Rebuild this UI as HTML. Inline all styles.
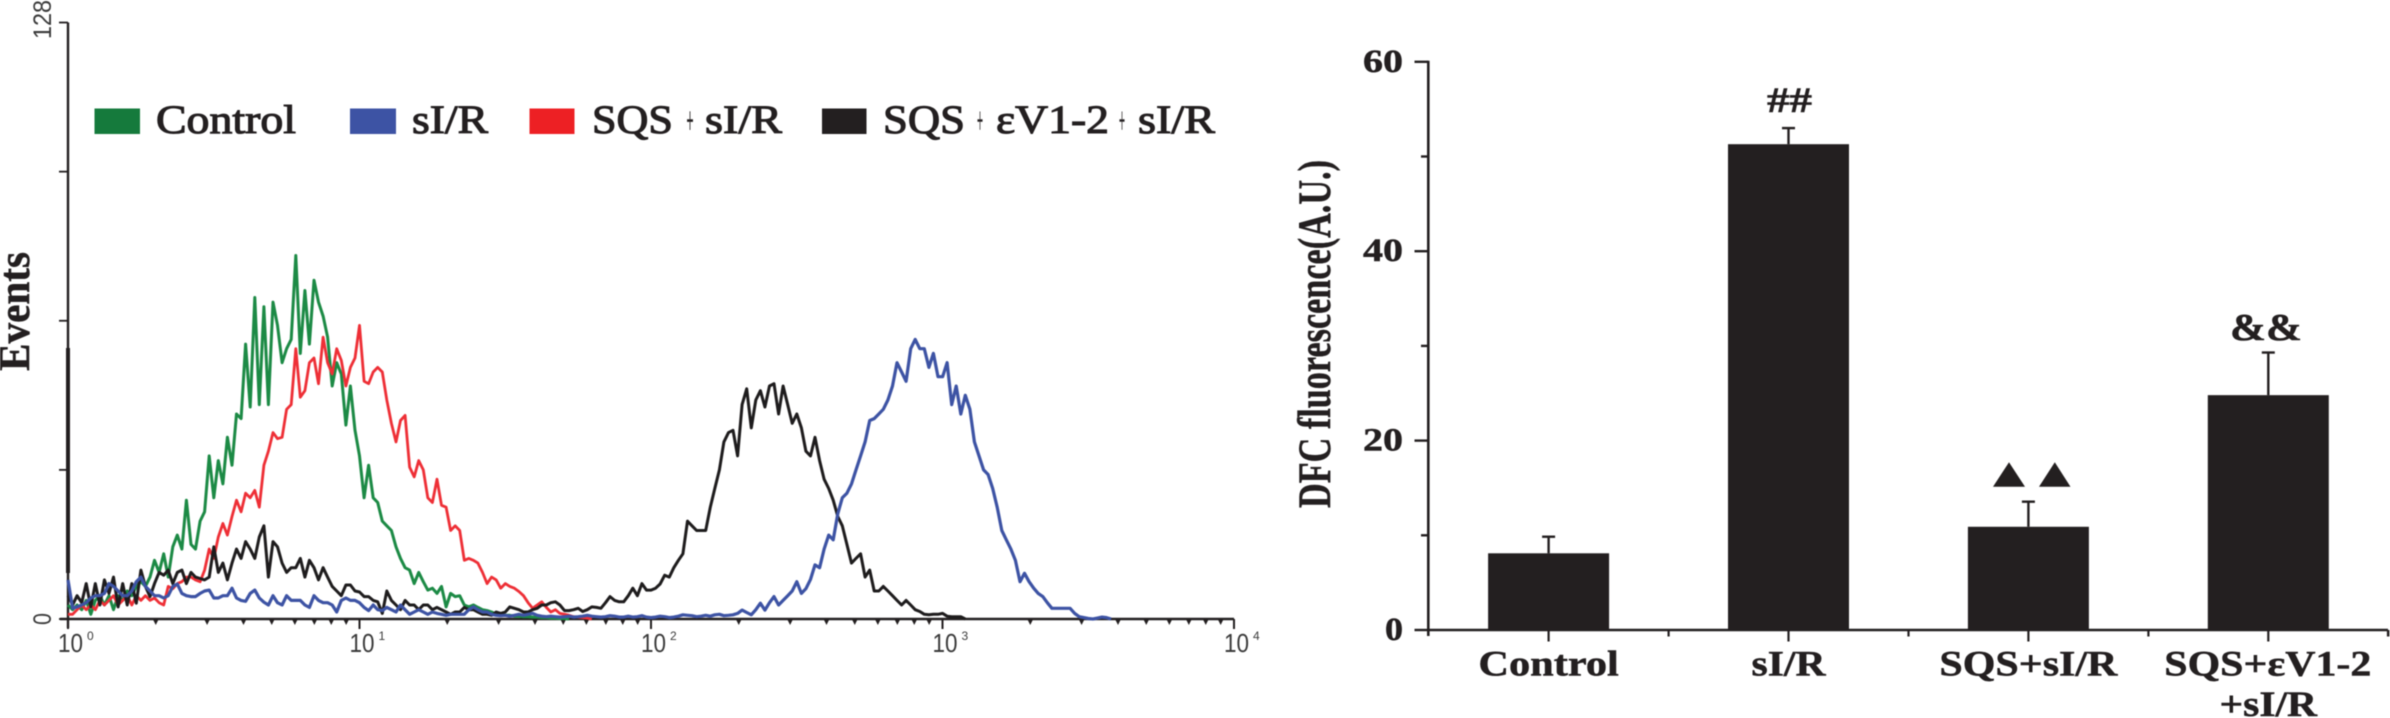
<!DOCTYPE html>
<html lang="en">
<head>
<meta charset="utf-8">
<title>Flow cytometry histogram and DFC fluorescence bar chart</title>
<style>
html,body{margin:0;padding:0;background:#fff;width:2390px;height:718px;overflow:hidden}
svg{display:block;filter:blur(0.6px)}
.serif{font-family:"Liberation Serif","Noto Serif CJK SC",serif;fill:#231f20}
.sans{font-family:"Liberation Sans","DejaVu Sans",sans-serif;fill:#3a3a3a}
.legend-text{font-size:40px;stroke:#231f20;stroke-width:1.1px}
.bold-text{font-weight:bold;stroke:#231f20;stroke-width:.5px}
</style>
</head>
<body>
<svg id="fig" xmlns="http://www.w3.org/2000/svg" width="2390" height="718" viewBox="0 0 2390 718">
  <g id="hist">
    <g id="hist-axes"></g>
    <g id="hist-lines"></g>
    <text class="serif" font-weight="bold" font-size="44" textLength="119" lengthAdjust="spacingAndGlyphs" transform="translate(29 371) rotate(-90)" stroke="#231f20" stroke-width=".5">Events</text>
    <g>
      <g>
        <rect x="94.5" y="108.5" width="45.5" height="25.5" fill="#157a3c"/>
        <text class="serif legend-text" x="156" y="133" textLength="140" lengthAdjust="spacingAndGlyphs">Control</text>
      </g>
      <g>
        <rect x="350" y="108.5" width="46" height="25.5" fill="#3d53a4"/>
        <text class="serif legend-text" x="412" y="133" textLength="76" lengthAdjust="spacingAndGlyphs">sI/R</text>
      </g>
      <g>
        <rect x="529.5" y="108.5" width="45" height="25.5" fill="#ed2024"/>
        <text class="serif legend-text" x="592" y="133" textLength="81" lengthAdjust="spacingAndGlyphs">SQS</text>
        <text class="serif" font-size="38" x="686.5" y="133" textLength="7" lengthAdjust="spacingAndGlyphs" stroke="#231f20" stroke-width=".7">+</text>
        <text class="serif legend-text" x="705" y="133" textLength="77" lengthAdjust="spacingAndGlyphs">sI/R</text>
      </g>
      <g>
        <rect x="822" y="108.5" width="44.5" height="25.5" fill="#231f20"/>
        <text class="serif legend-text" x="883" y="133" textLength="82" lengthAdjust="spacingAndGlyphs">SQS</text>
        <text class="serif" font-size="38" x="977" y="133" textLength="6" lengthAdjust="spacingAndGlyphs" stroke="#231f20" stroke-width=".6">+</text>
        <text class="serif legend-text" x="996" y="133" textLength="113" lengthAdjust="spacingAndGlyphs">εV1-2</text>
        <text class="serif" font-size="38" x="1119" y="133" textLength="6" lengthAdjust="spacingAndGlyphs" stroke="#231f20" stroke-width=".6">+</text>
        <text class="serif legend-text" x="1138" y="133" textLength="77" lengthAdjust="spacingAndGlyphs">sI/R</text>
      </g>
    </g>
  </g>
  <g id="bars">
    <g id="bar-marks"></g>
    <g id="bar-axes"></g>
    <text class="serif bold-text" font-size="47" textLength="348" lengthAdjust="spacingAndGlyphs" transform="translate(1330 508) rotate(-90)">DFC fluorescence(A.U.)</text>
    <text class="serif bold-text" font-size="36" x="1767" y="112" textLength="45" lengthAdjust="spacingAndGlyphs">##</text>
    <text class="serif bold-text" font-size="38" x="2230" y="340" textLength="72" lengthAdjust="spacingAndGlyphs">&amp;&amp;</text>
    <polygon points="1993,486.7 2009,462.3 2025,486.7" fill="#231f20"/>
    <polygon points="2039,486.7 2054.8,462.3 2070.5,486.7" fill="#231f20"/>
    <text class="serif bold-text" font-size="36" x="2219.5" y="716" textLength="97.5" lengthAdjust="spacingAndGlyphs">+sI/R</text>
  </g>
</svg>
<script>
// ---- Histogram data: event counts per log channel (64 channels per decade) ----
const greenCounts = [3,2,3,2,4,1,4,5,3,5,2,5,4,6,5,7,8,7,9,12.6,10,14,9,15.5,18,15,25.5,16,15,21,23,35,26,34,29,39,33,44,43,59,45.5,69,46,67,46,68,63,55,58,60,78,57,70.5,59,72.7,68,65,60.5,50,55,52.6,41.6,50,40.5,35,26,33,26,25,21,20,19,15.5,13,11,10.5,7.6,10,8,6.2,6.6,5.5,7,2.6,5.5,4.8,5,3,2.6,3,2.5,2,1.8,1.5,1,1,.8,.8,.6,.6,.5,.5,.4,.4,.3,.3,.2,.2,.1,.1,0];
const redCounts = [1,1,2,3,2,3,2,4,3,4,5,3,4,5,3,5,4,5,4,4.5,3.5,3,7,6.5,7.6,8,9,9,8.4,8,10.5,15,13,17.6,20.5,18,22,25.5,23,27,26,27.6,24,33,36,40,38.7,39,45,46,58,47.6,49,55,56,50.5,60.5,55,52.6,58,55.5,50,54,56,63,51,50.5,53,54,53,47,42,38,42.6,43.7,32.6,30.5,34,32,26,25,30,24.4,24,19,20,19,12.6,13,12.6,12,10,7.6,9,8.4,6.6,7.6,7,6.6,5.9,5,3.5,2.3,3,3.7,2.5,1.5,2,1.2,1,.8,.5,.4,.3,.2,0];
const blackCounts = [5,3,5,3.5,7.6,2.6,7.6,3,8.4,5.5,9,2.6,7.6,3,7.6,3.4,10.5,7,4.8,7.6,10,9.4,10.5,7.6,10,10.5,7.6,10,9,8.7,8.4,9,15.5,10,12,8.4,12,15,13,16.6,15,13,17.6,20,9,16.6,15.5,12,10,11,11,13,9,12.6,11,8.4,11,9,7,6,5,7.3,7.3,6,5.8,4.8,4.8,4,3.7,1.2,6,4,3,2,4,3,3,2,3,3,2,2.5,2,1.5,1,1.5,1.5,2.5,2,2,1.5,1,1,.8,1.5,1.2,1.5,2.6,2.3,2,1.5,1.5,2,2.3,3,3,3.5,3.7,3,1.8,1.8,2,2.3,1.6,2,2.6,2.5,2.3,3.5,4.8,4,3.7,3.7,5,6.6,5,7.6,6.2,6.2,6.6,7.5,9.4,9,11,12.6,14,21,20,19,19,19,24,28,32,38,40,40.5,35,46,49.4,41,47,49,45.5,50,50.5,44,50,46,42,44,41,36,35,39,34,30,28,25.5,22,20,16,12,13,14,9,10.5,6,6,7,6,5,4,3,4,3,2,1.6,1,.9,1,1,1.2,.6,.5,.5,.5,0];
const blueCounts = [8.4,2.3,2.6,3,3.5,4.5,5,5,5.5,7.6,7,6,5,5,6,8,9,7,6,5,5,4.5,5,7,7.5,5.5,5,4.8,4.8,5.5,6,6.2,4.5,4.5,5,5,6.6,4.5,4,3.8,5.5,6.2,4.5,3.6,3,5,3.5,3,5,4,4,4,3,2.5,5,4,3.5,3.5,3,1.5,4,4.5,4,4,3.5,2.5,1.8,3,2,1.8,2.5,2,1.5,3,2,1,1.5,2,1.5,1,1.5,1.2,1,.8,1,1,1,1,2,2.6,2,1.5,1.5,1,.8,.7,.8,.6,.8,1,.8,1,1.2,.8,.6,.5,.6,.5,.4,.5,.6,.4,.5,.6,.8,.6,.5,.4,.5,.7,.6,.4,.4,.6,.4,.5,.7,.4,.3,.4,.6,.5,.3,.4,.6,.9,.8,.7,.5,.6,.8,.6,.9,1,.7,.8,.9,1.2,1.9,1.4,.9,2,3.4,1.9,3.5,4.8,3,4,5,6,8,5.5,6.5,8.5,11.6,11,15,18,17,22.6,26,27,29,32,35,38,42.6,43,44,45,47,50,55,53,51,58,60,58,58,54,57,52,52,55,46,50,44,48,45,38,35,32,31,28,24,19,17,15,12.6,8,9.8,8,6.6,5.5,4.8,3.5,2.3,2.3,2.3,2.3,2.3,1.2,.5,.3,.1,0,.2,.4,.3,0];
const decadeLabels = ["10","10","10","10","10"];
const decadeExponents = ["0","1","2","3","4"];
const decades = [1,10,100,1000,10000];
const minorMultipliers = [2,3,4,5,6,7,8,9];
const eventTicks = [0,32,64,96,128];
const eventTickLabels = ["0","","","","128"];

// ---- Bar chart data ----
const categories = ["Control","sI/R","SQS+sI/R","SQS+εV1-2"];
const meanValues = [8.1,51.3,10.9,24.8];
const errorValues = [1.75,1.7,2.65,4.5];
const valueTicks = [0,10,20,30,40,50,60];
const valueTickLabels = ["0","","20","","40","","60"];

const NS = "http://www.w3.org/2000/svg";
function make(parent, tag, attrs, text) {
  const el = document.createElementNS(NS, tag);
  for (const k in attrs) el.setAttribute(k, attrs[k]);
  if (text !== undefined) el.textContent = text;
  parent.appendChild(el);
  return el;
}

// ---- Histogram axis functions ----
const channelX = c => 68 + c * 4.555;
const logX = v => 68 + 291.5 * Math.log10(v);
const eventY = n => 619 - n * 4.66;

const histAxes = document.getElementById("hist-axes");
const histLines = document.getElementById("hist-lines");
const AXIS = "#231f20";

let histEl = make(histAxes, "line", {x1:68,y1:eventY(128),x2:68,y2:628,stroke:AXIS,"stroke-width":2.4});


histEl = make(histAxes, "line", {x1:68,y1:348,x2:68,y2:573,stroke:AXIS,"stroke-width":4});


histEl = make(histAxes, "line", {x1:60,y1:eventY(0),x2:logX(10000),y2:eventY(0),stroke:AXIS,"stroke-width":2.4});



eventTicks.forEach((t, i) => {
  const tick = make(histAxes, "line", {x1:59,y1:eventY(t),x2:68,y2:eventY(t),stroke:AXIS,"stroke-width":1.8});
  
  
  if (eventTickLabels[i]) {
    const isTop = t === 128;
    const ty = isTop ? 39 : eventY(t) + 6;
    const len = isTop ? 39 : 12;
    const lab = make(histAxes, "text", {class:"sans","font-size":25,textLength:len,lengthAdjust:"spacingAndGlyphs",transform:"translate(51 " + ty + ") rotate(-90)"}, eventTickLabels[i]);
    
    
  }
});

decades.forEach((d, i) => {
  const x = logX(d);
  const tick = make(histAxes, "line", {x1:x,y1:eventY(0),x2:x,y2:629,stroke:AXIS,"stroke-width":2});
  
  
  const lab = make(histAxes, "text", {class:"sans","font-size":26,x:x - 10,y:652,textLength:25,lengthAdjust:"spacingAndGlyphs"}, decadeLabels[i]);
  
  
  const sup = make(histAxes, "text", {class:"sans","font-size":12,x:x + 19,y:640}, decadeExponents[i]);
  
  
  if (i < decades.length - 1) {
    minorMultipliers.forEach(m => {
      const mx = logX(d * m);
      const minor = make(histAxes, "polygon", {points:(mx-2.5)+",620 "+(mx+2.5)+",620 "+mx+",625",fill:AXIS});
      
      
    });
  }
});

function linePath(counts) {
  let d = "";
  counts.forEach((n, c) => {
    d += (c === 0 ? "M" : "L") + channelX(c).toFixed(1) + " " + eventY(n).toFixed(1);
  });
  return d;
}

const greenLine = make(histLines, "path", {d:linePath(greenCounts),fill:"none",stroke:"#1c8a45","stroke-width":3,"stroke-linejoin":"round"});


const redLine = make(histLines, "path", {d:linePath(redCounts),fill:"none",stroke:"#ee2f36","stroke-width":2.8,"stroke-linejoin":"round"});


const blackLine = make(histLines, "path", {d:linePath(blackCounts),fill:"none",stroke:"#1e1c1d","stroke-width":3,"stroke-linejoin":"round"});


const blueLine = make(histLines, "path", {d:linePath(blueCounts),fill:"none",stroke:"#3d53a4","stroke-width":3.2,"stroke-linejoin":"round"});



// ---- Bar chart axis functions ----
const valueY = v => 630 - v * 9.47;
const bandX = i => 1548.6 + i * 239.9;
const barMarks = document.getElementById("bar-marks");
const barAxes = document.getElementById("bar-axes");

categories.forEach((name, i) => {
  const cx = bandX(i);
  const bar = make(barMarks, "rect", {x:cx - 60.5,y:valueY(meanValues[i]),width:121,height:valueY(0) - valueY(meanValues[i]) + 1,fill:"#231f20"});
  
  
  const top = valueY(meanValues[i] + errorValues[i]);
  const stem = make(barMarks, "line", {x1:cx,y1:valueY(meanValues[i]),x2:cx,y2:top,stroke:"#231f20","stroke-width":2.4});
  
  
  const cap = make(barMarks, "line", {x1:cx - 6.5,y1:top,x2:cx + 6.5,y2:top,stroke:"#231f20","stroke-width":2.4});
  
  
  const major = make(barAxes, "line", {x1:cx,y1:630,x2:cx,y2:641.5,stroke:"#231f20","stroke-width":2.2});
  
  
  const minorTick = make(barAxes, "line", {x1:cx + 120,y1:630,x2:cx + 120,y2:636.5,stroke:"#231f20","stroke-width":2.2});
  
  
});

const barYAxis = make(barAxes, "line", {x1:1428.3,y1:valueY(60) - 1,x2:1428.3,y2:636,stroke:"#231f20","stroke-width":2.6});


const barXAxis = make(barAxes, "line", {x1:1428,y1:630,x2:2388,y2:630,stroke:"#231f20","stroke-width":2.4});


const barXEnd = make(barAxes, "line", {x1:2388,y1:630,x2:2388,y2:636.5,stroke:"#231f20","stroke-width":2.2});



valueTicks.forEach((v, i) => {
  const isMajor = valueTickLabels[i] !== "";
  const tick = make(barAxes, "line", {x1:isMajor ? 1414.5 : 1421,y1:valueY(v),x2:1428.3,y2:valueY(v),stroke:"#231f20","stroke-width":2.4});
  
  
  if (isMajor) {
    const lab = make(barAxes, "text", {class:"serif bold-text","font-size":33,"text-anchor":"end",x:1403,y:valueY(v) + 10,textLength:v === 0 ? 18 : 40,lengthAdjust:"spacingAndGlyphs"}, valueTickLabels[i]);
    
    
  }
});

const labelLengths = [140.5,74,178,207];
categories.forEach((name, i) => {
  const lab = make(barAxes, "text", {class:"serif bold-text","font-size":36,x:bandX(i) - labelLengths[i] / 2 + (i === 3 ? -0.5 : 0),y:675.5,textLength:labelLengths[i],lengthAdjust:"spacingAndGlyphs"}, name);
  
  
});
</script>
</body>
</html>
